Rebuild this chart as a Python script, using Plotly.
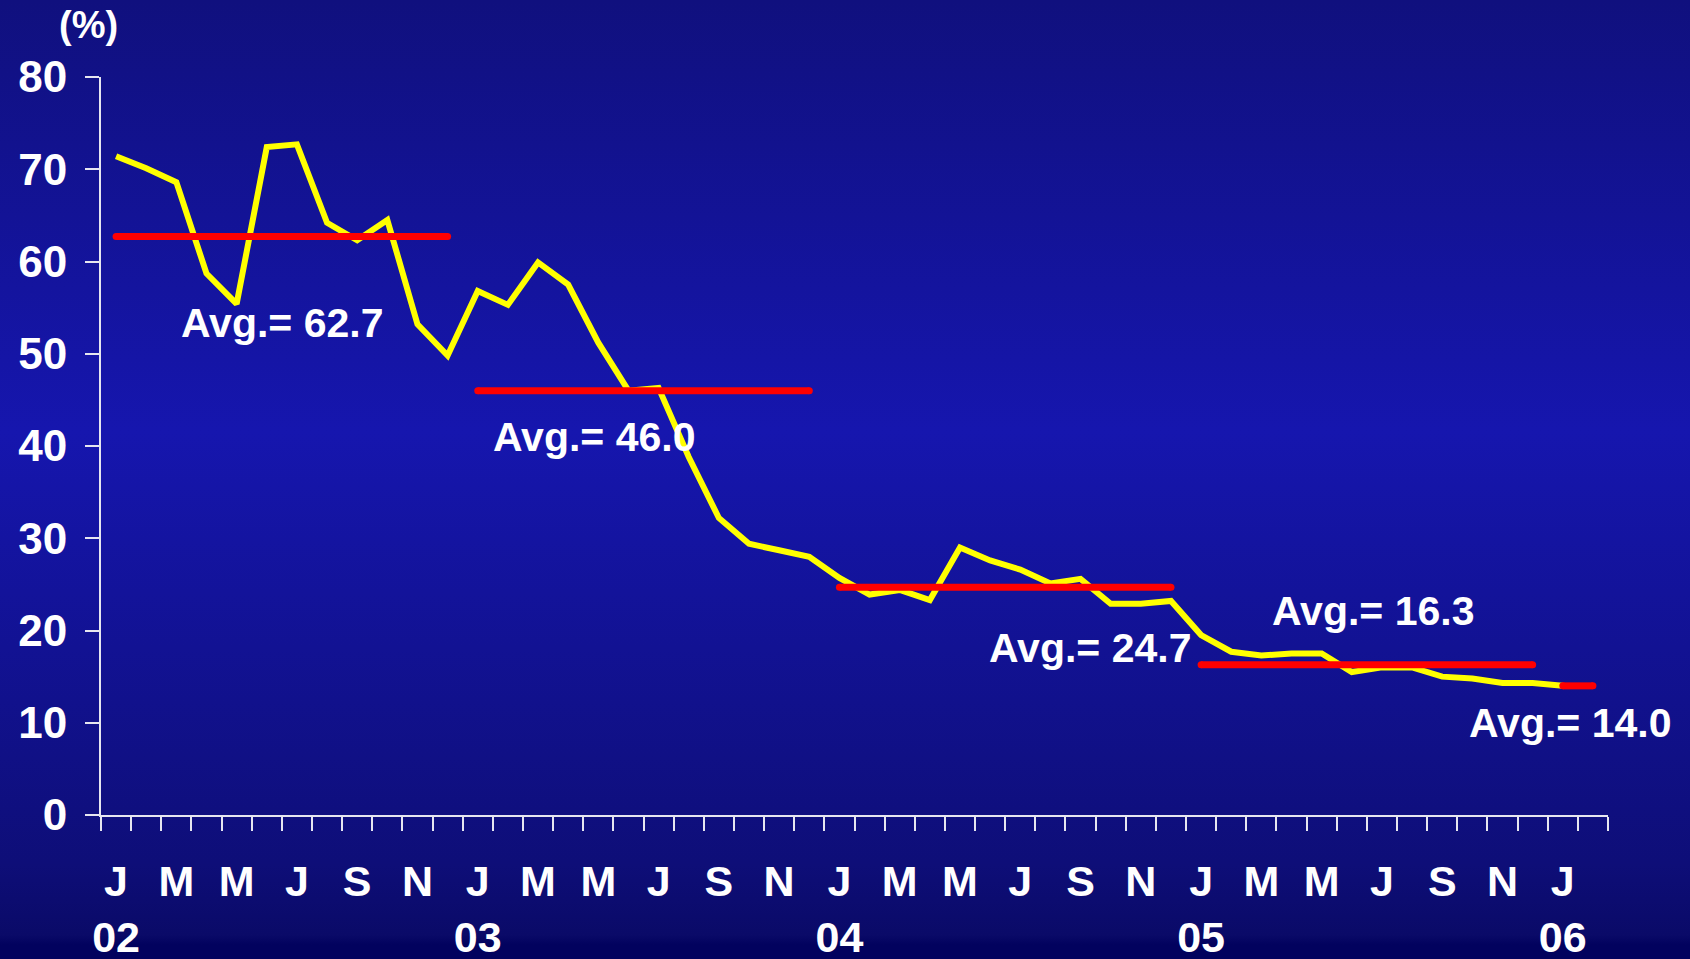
import base64
import plotly.graph_objects as go

# ---------------- data ----------------
months = ["J", "F", "M", "A", "M", "J", "J", "A", "S", "O", "N", "D"]
years = ["02", "03", "04", "05", "06"]
values = [
    71.4, 70.1, 68.6, 58.7, 55.4, 72.4, 72.7, 64.2, 62.3, 64.5, 53.2, 49.8,
    56.8, 55.3, 59.9, 57.5, 51.2, 46.0, 46.3, 38.8, 32.2, 29.4, 28.7, 28.0,
    25.7, 23.9, 24.4, 23.3, 29.0, 27.6, 26.6, 25.1, 25.6, 22.9, 22.9, 23.2,
    19.5, 17.7, 17.3, 17.5, 17.5, 15.5, 16.0, 16.0, 15.0, 14.8, 14.3, 14.3,
    14.0,
]
avg_values = [62.7, 46.0, 24.7, 16.3, 14.0]
avg_start = [0, 12, 24, 36, 48]   # month index where the average bar starts
avg_end = [11, 23, 35, 47, 49]    # month index where it ends
y_ticks = [0, 10, 20, 30, 40, 50, 60, 70, 80]

# ---------------- layout constants ----------------
W, H = 1690, 959
ML, MR, MT, MB = 101, 82, 77, 144
PW, PH = W - ML - MR, H - MT - MB
n_slots = 50
FONT = "Liberation Sans, Arial, Helvetica, sans-serif"
AXC = "#e6e6f0"

# label positions (data coords) for the average annotations
label_pos = [(5.5, 53.3), (15.86, 41.0), (32.3, 18.1), (41.7, 22.1), (48.24, 10.0)]

x = list(range(len(values)))

fig = go.Figure()

fig.add_trace(go.Scatter(
    x=x, y=values, mode="lines",
    line=dict(color="#ffff00", width=6), hoverinfo="skip", showlegend=False,
))

for s, e, v in zip(avg_start, avg_end, avg_values):
    fig.add_trace(go.Scatter(
        x=[s, e], y=[v, v], mode="lines+markers",
        line=dict(color="#ff0000", width=7),
        marker=dict(color="#ff0000", size=7, line=dict(width=0)),
        hoverinfo="skip", showlegend=False,
    ))

for (lx, ly), v in zip(label_pos, avg_values):
    fig.add_annotation(
        x=lx, y=ly, xref="x", yref="y", text=f"Avg.= {v:.1f}",
        showarrow=False, xanchor="center", yanchor="middle",
        font=dict(family=FONT, size=41, color="white", weight="bold"),
    )

fig.add_annotation(
    x=(88 - ML) / PW, y=(H - MB - 25) / PH, xref="paper", yref="paper",
    text="(%)", showarrow=False, xanchor="center", yanchor="middle",
    font=dict(family=FONT, size=38, color="white", weight="bold"),
)

# tick labels every second month, years under January
tickvals, ticktext = [], []
for i in range(0, len(values), 2):
    m = months[i % 12]
    if i % 12 == 0:
        ticktext.append(f"{m}<br>{years[i // 12]}")
    else:
        ticktext.append(m)
    tickvals.append(i)

# background gradient as an SVG image
svg = (
    '<svg xmlns="http://www.w3.org/2000/svg" width="100" height="100" preserveAspectRatio="none" viewBox="0 0 100 100">'
    '<defs><linearGradient id="g" x1="0" y1="0" x2="0" y2="1">'
    '<stop offset="0" stop-color="#10107e"/>'
    '<stop offset="0.45" stop-color="#1616ae"/>'
    '<stop offset="0.90" stop-color="#0e0e78"/>'
    '<stop offset="0.975" stop-color="#0a0a68"/>'
    '<stop offset="0.985" stop-color="#02025e"/>'
    '<stop offset="1" stop-color="#02025e"/>'
    '</linearGradient></defs>'
    '<rect x="0" y="0" width="100" height="100" fill="url(#g)"/></svg>'
)
src = "data:image/svg+xml;base64," + base64.b64encode(svg.encode()).decode()

fig.update_layout(
    width=W, height=H,
    margin=dict(l=ML, r=MR, t=MT, b=MB, pad=0, autoexpand=False),
    paper_bgcolor="#10107e", plot_bgcolor="rgba(0,0,0,0)",
    showlegend=False,
    images=[dict(
        source=src, xref="paper", yref="paper",
        x=-ML / PW, y=1 + MT / PH, sizex=W / PW, sizey=H / PH,
        xanchor="left", yanchor="top", sizing="stretch", layer="below",
    )],
    xaxis=dict(
        range=[-0.5, n_slots - 0.5], showgrid=False, zeroline=False,
        automargin=False,
        showline=True, linecolor=AXC, linewidth=2,
        tickmode="array", tickvals=tickvals, ticktext=ticktext, ticks="",
        tickfont=dict(family=FONT, size=43, color="white", weight="bold"),
        ticklabelstandoff=27,
        minor=dict(tickmode="array", tickvals=[k - 0.5 for k in range(n_slots + 1)],
                   ticks="outside", ticklen=14, tickwidth=2, tickcolor=AXC, showgrid=False),
    ),
    yaxis=dict(
        range=[0, 80], showgrid=False, zeroline=False,
        automargin=False,
        showline=True, linecolor=AXC, linewidth=2,
        tickmode="array", tickvals=y_ticks, ticks="outside", ticklen=14,
        tickwidth=2, tickcolor=AXC,
        tickfont=dict(family=FONT, size=44, color="white", weight="bold"),
        ticklabelstandoff=9,
    ),
)

fig.write_html(
    "out.html",
    config={"displayModeBar": False},
    post_script="document.body.style.margin='0';document.body.style.padding='0';"
                "document.body.style.overflow='hidden';"
                "document.body.style.background='#02025e';",
)
